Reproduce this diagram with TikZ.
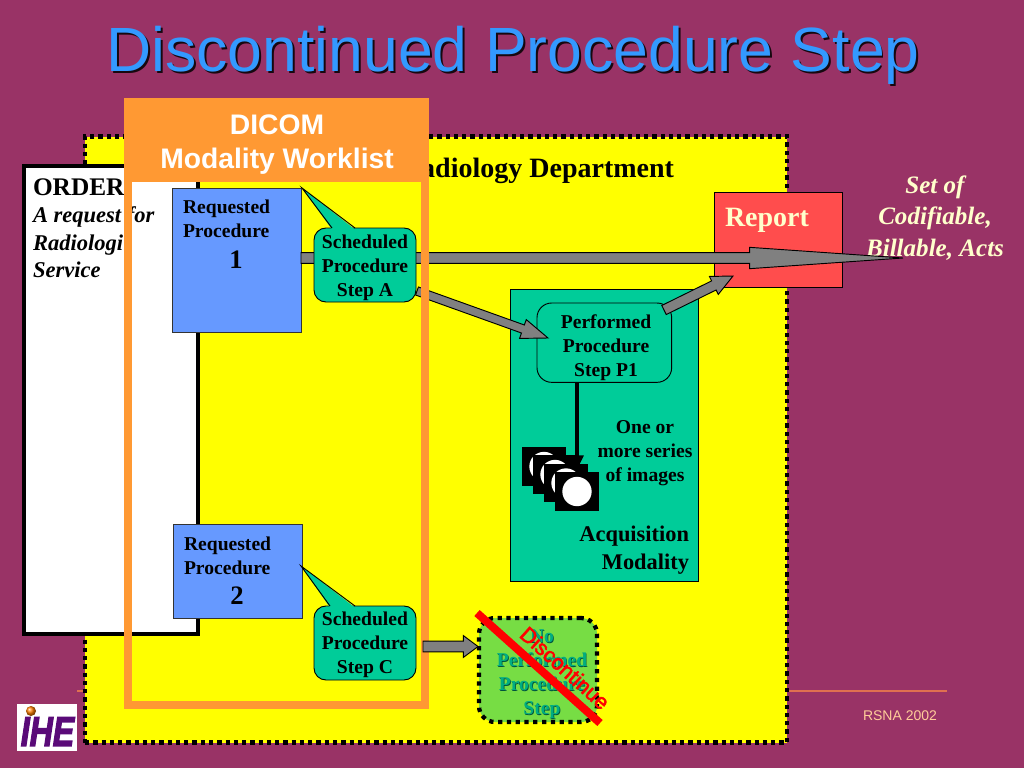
\documentclass[tikz,border=0pt]{standalone}
\usepackage{fontspec}
\setmainfont{Liberation Serif}
\setsansfont{Liberation Sans}
\usetikzlibrary{calc,arrows.meta}
\definecolor{bgc}{HTML}{993366}
\definecolor{tealc}{HTML}{00CC99}
\definecolor{bluec}{HTML}{6699FF}
\definecolor{orangec}{HTML}{FF9933}
\definecolor{creamc}{HTML}{FFFFCC}
\definecolor{redc}{HTML}{FF4D4D}
\definecolor{purered}{HTML}{FF0000}
\definecolor{greenc}{HTML}{77DD44}
\definecolor{yellowc}{HTML}{FFFF00}
\definecolor{titlec}{HTML}{3399FF}
\definecolor{linec}{HTML}{E07050}
\definecolor{rsnac}{HTML}{FFCC99}
\definecolor{logoc}{HTML}{5A0A78}
\definecolor{arrowc}{HTML}{808080}
\newcommand\fatarrow[5]{%
  \coordinate (fabase) at ($(#2)!#5pt!(#1)$);
  \draw[fatstyle] ($(#1)!#3pt!90:(#2)$) -- ($(fabase)!#3pt!90:(#2)$) -- ($(fabase)!#4pt!90:(#2)$) -- (#2)
    -- ($(fabase)!#4pt!-90:(#2)$) -- ($(fabase)!#3pt!-90:(#2)$) -- ($(#1)!#3pt!-90:(#2)$) -- cycle;}
\tikzset{
  x=0.75pt,y=-0.75pt,
  every node/.style={outer sep=0pt},
  fatstyle/.style={draw=black,fill=arrowc,line width=0.7pt,line join=miter},
  body/.style={font=\bfseries\fontsize{14.7pt}{18pt}\selectfont,align=center,inner sep=0pt},
  rpbox/.style={draw=black!80,fill=bluec,line width=0.7pt,anchor=north west,inner sep=0pt},
  spsbox/.style={draw=black,fill=tealc,rounded corners=9pt,line width=0.7pt,anchor=north west,inner sep=0pt,minimum width=76.5pt,minimum height=55.5pt},
  sqr/.style={fill=black,minimum width=32.5pt,minimum height=29pt,inner sep=0pt},
  dot/.style={fill=white,circle,minimum size=22pt,inner sep=0pt},
  dotted box/.style={draw=black,line width=3.2pt,dash pattern=on 3.2pt off 3pt}
}
\begin{document}
\begin{tikzpicture}
\useasboundingbox (0,0) rectangle (1024,768);
\fill[bgc] (0,0) rectangle (1024,768);
% title
\node[font=\sffamily\fontsize{46.9pt}{56pt}\selectfont,text=black!85!bgc,anchor=center] (titleshadow) at (515,57) {Discontinued Procedure Step};
\node[font=\sffamily\fontsize{46.9pt}{56pt}\selectfont,text=titlec,anchor=center] (title) at (513,55) {Discontinued Procedure Step};
% footer
\draw[linec,line width=0.8pt] (77,691) -- (947,691);
\node[font=\sffamily\fontsize{10.5pt}{12pt}\selectfont,text=rsnac,inner sep=0pt] (rsna) at (900,716) {RSNA 2002};
% logo
\node[fill=white,minimum width=45pt,minimum height=35pt,inner sep=0pt] (logo) at (47,727.5) {};
\node[font=\sffamily\bfseries\itshape\fontsize{24pt}{24pt}\selectfont,text=logoc,inner sep=0pt,yscale=1.3,transform shape] (logotext) at (47.5,731.5) {\special{pdf:code 2 Tr 0.8 w}IHE\special{pdf:code 0 Tr}};
\shade[ball color=orange] (31,711) circle[radius=5];
% department
\node[dotted box,fill=yellowc,anchor=north west,minimum width=526.5pt,minimum height=454.5pt,inner sep=0pt] (dept) at (85,136.5) {};
\node[font=\bfseries\fontsize{21pt}{24pt}\selectfont,anchor=base east,inner sep=0pt] (depttext) at (674,177) {Radiology Department};
% order
\node[draw=black,fill=white,line width=3pt,anchor=north west,minimum width=130.5pt,minimum height=351pt,inner sep=0pt] (order) at (24,166) {};
\node[font=\bfseries\fontsize{19pt}{24pt}\selectfont,anchor=base west,inner sep=0pt] (ordert) at (33,195) {ORDER};
\node[font=\bfseries\itshape\fontsize{16.9pt}{20pt}\selectfont,anchor=base west,inner sep=0pt] (order1) at (33,222) {A request for};
\node[font=\bfseries\itshape\fontsize{16.9pt}{20pt}\selectfont,anchor=base west,inner sep=0pt] (order2) at (33,250) {Radiologi};
\node[font=\bfseries\itshape\fontsize{16.9pt}{20pt}\selectfont,anchor=base west,inner sep=0pt] (order3) at (33,277) {Service};
% report
\node[draw=black,fill=redc,line width=0.7pt,anchor=north west,minimum width=96pt,minimum height=71.25pt,inner sep=0pt] (report) at (714,192) {};
\node[font=\bfseries\fontsize{21pt}{24pt}\selectfont,text=creamc,anchor=base west,inner sep=0pt] (reportt) at (725,226) {Report};
\node[font=\bfseries\itshape\fontsize{18.8pt}{23.6pt}\selectfont,text=creamc,align=center,inner sep=0pt] (acts) at (935,218) {Set of\\Codifiable,\\Billable, Acts};
% acquisition
\node[draw=black,fill=tealc,line width=0.7pt,anchor=north west,minimum width=141pt,minimum height=219pt,inner sep=0pt] (acq) at (510,289) {};
\node[font=\bfseries\fontsize{16.8pt}{21pt}\selectfont,align=right,anchor=north east,inner sep=0pt] (acqt) at (689,526) {Acquisition\\Modality};
\node[body,anchor=center] (series) at (645,453) {One or\\more series\\of images};
% performed
\node[draw=black,fill=tealc,rounded corners=11pt,line width=0.7pt,anchor=north west,minimum width=101pt,minimum height=59.5pt,inner sep=0pt] (pps) at (537,303) {};
\node[body] (ppst) at (606,348) {Performed\\Procedure\\Step P1};
% images
\coordinate (imgtip) at (577,470);
\draw[line width=3.6pt,-{Triangle[length=11pt,width=9.5pt]}] (pps.south -| imgtip) -- (imgtip);
\foreach \n/\cx/\cy in {a/544/466.5,b/555/474.5,c/566/483,d/577/491.5}{
  \node[sqr] (sq\n) at (\cx,\cy) {};
  \node[dot] (ci\n) at (\cx,\cy) {};
}
% green
\node[dotted box,fill=greenc,rounded corners=12pt,dash pattern=on 3.2pt off 3.4pt,anchor=north west,minimum width=88.5pt,minimum height=78pt] (np) at (479,618) {};
\node[font=\bfseries\fontsize{14.7pt}{18pt}\selectfont,text=black!60!tealc,align=center,inner sep=0pt] (npts) at (542.7,674.7) {No\\Performed\\Procedure\\Step};
\node[font=\bfseries\fontsize{14.7pt}{18pt}\selectfont,text=tealc!85!black,align=center,inner sep=0pt] (npt) at (542,674) {No\\Performed\\Procedure\\Step};
\coordinate (xa) at (477,613);
\coordinate (xb) at (600,723);
\draw[purered,line width=6pt] (xa) -- (xb);
\node[font=\sffamily\fontsize{16pt}{18pt}\selectfont,text=purered,rotate=-42,inner sep=0pt] (disc) at (565,668) {\special{pdf:code 2 Tr 0.4 w}Discontinue\special{pdf:code 0 Tr}};
% requested procedures
\node[rpbox,minimum width=97pt,minimum height=108pt] (rp1) at (172,188) {};
\node[rpbox,minimum width=97pt,minimum height=70.5pt] (rp2) at (173,524.5) {};
\node[body,align=left,anchor=north west] (rp1t) at (183,200) {Requested\\Procedure};
\node[font=\bfseries\fontsize{20pt}{24pt}\selectfont,inner sep=0pt] (rp1n) at (236,260) {1};
\node[body,align=left,anchor=north west] (rp2t) at (184,537) {Requested\\Procedure};
\node[font=\bfseries\fontsize{20pt}{24pt}\selectfont,inner sep=0pt] (rp2n) at (237,596) {2};
% arrows
\coordinate (mainstart) at (301,258);
\coordinate (maintip) at (903,258);
\fatarrow{mainstart}{maintip}{4}{8}{115}
\coordinate (a2s) at (417,291);
\coordinate (a2t) at (548,338);
\fatarrow{a2s}{a2t}{3.2}{7.5}{20}
\coordinate (a3s) at (664,310);
\coordinate (a3t) at (733,276);
\fatarrow{a3s}{a3t}{3.8}{7.5}{16}
% scheduled
\node[spsbox] (spsa) at (314,228) {};
\node[spsbox] (spsc) at (314,606) {};
\node[body] (spsat) at (365,268) {Scheduled\\Procedure\\Step A};
\node[body] (spsct) at (365,645) {Scheduled\\Procedure\\Step C};
\fill[tealc] (332,229.5) -- (302,188) -- (355,229.5) -- cycle;
\draw[black,line width=0.7pt] (332,228) -- (302,188) -- (355,228);
\fill[tealc] (330,607.5) -- (301,566) -- (355,607.5) -- cycle;
\draw[black,line width=0.7pt] (330,606) -- (301,566) -- (355,606);
% worklist
\fill[orangec] (124,98) rectangle (429,182);
\draw[orangec,line width=6.2pt] (128,102) rectangle (425,705);
\node[font=\sffamily\bfseries\fontsize{21.2pt}{25.5pt}\selectfont,text=white,align=center,inner sep=0pt] (wl) at (277,145) {DICOM\\Modality Worklist};
\coordinate (a4s) at (423,646.5);
\coordinate (a4t) at (478,646.5);
\fatarrow{a4s}{a4t}{4}{8.2}{11}
\end{tikzpicture}
\end{document}
